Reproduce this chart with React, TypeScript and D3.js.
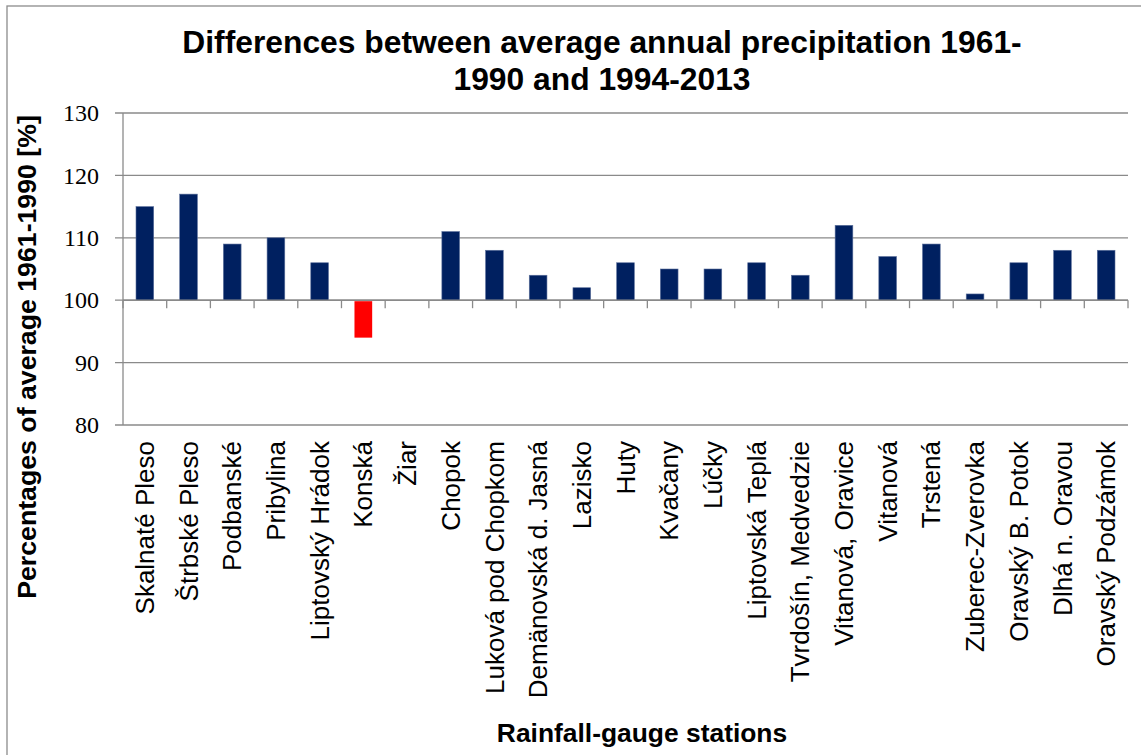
import React from "react";
import * as d3 from "d3";

const stations = [
  "Skalnaté Pleso", "Štrbské Pleso", "Podbanské", "Pribylina", "Liptovský Hrádok",
  "Konská", "Žiar", "Chopok", "Luková pod Chopkom", "Demänovská d. Jasná",
  "Lazisko", "Huty", "Kvačany", "Lúčky", "Liptovská Teplá",
  "Tvrdošín, Medvedzie", "Vitanová, Oravice", "Vitanová", "Trstená", "Zuberec-Zverovka",
  "Oravský B. Potok", "Dlhá n. Oravou", "Oravský Podzámok",
];
const percentages = [
  115, 117, 109, 110, 106,
  94, 100, 111, 108, 104,
  102, 106, 105, 105, 106,
  104, 112, 107, 109, 101,
  106, 108, 108,
];
const yTicks = [80, 90, 100, 110, 120, 130];
const titleLines = ["Differences between average annual precipitation 1961-", "1990 and 1994-2013"];
const yTitle = "Percentages of average 1961-1990 [%]";
const xTitle = "Rainfall-gauge stations";

const W = 1141;
const H = 755;
const plotLeft = 123;
const plotRight = 1128;
const plotTop = 113;
const plotBottom = 425;
const gridColor = "#8a8a8a";
const sans = "'Liberation Sans', Arial, sans-serif";
const serif = "'Liberation Serif', 'Times New Roman', serif";

export default function App() {
  const x = d3.scaleBand<string>().domain(stations).range([plotLeft, plotRight]).paddingInner(0).paddingOuter(0);
  const y = d3.scaleLinear().domain([80, 130]).range([plotBottom, plotTop]);
  const bw = x.bandwidth() * 0.405;
  const base = y(100);
  const boundaries = stations.map((s) => x(s) as number).concat([plotRight]);

  return (
    <svg width={W} height={H} style={{ position: "absolute", left: 0, top: 0, background: "#fff" }}>
      <rect x={0} y={0} width={W} height={H} fill="#fff" />
      <rect x={7} y={6} width={W + 10} height={H + 10} fill="none" stroke="#8c8c8c" strokeWidth={1.3} />
      {/* title */}
      {titleLines.map((t, i) => (
        <text key={i} x={602} y={53 + i * 37} textAnchor="middle" fontFamily={sans} fontWeight="bold" fontSize={31.8} fill="#000">
          {t}
        </text>
      ))}
      {/* gridlines */}
      {yTicks.map((t) => (
        <line key={t} x1={plotLeft - 8} x2={plotRight} y1={y(t)} y2={y(t)} stroke={gridColor} strokeWidth={1.3} />
      ))}
      {/* y axis */}
      <line x1={plotLeft} x2={plotLeft} y1={plotTop} y2={plotBottom} stroke={gridColor} strokeWidth={1.3} />
      {yTicks.map((t) => (
        <text key={"l" + t} x={99} y={y(t)} dy="0.34em" textAnchor="end" fontFamily={serif} fontSize={24} fill="#000">
          {t}
        </text>
      ))}
      {/* bars */}
      {stations.map((s, i) => {
        const v = percentages[i];
        const cx = (x(s) as number) + x.bandwidth() / 2;
        if (v === 100) return null;
        const y0 = v > 100 ? y(v) : base + 1;
        const h = Math.abs(y(v) - base) - (v > 100 ? 0 : 1);
        return (
          <rect key={s} x={cx - bw / 2} y={y0} width={bw} height={h} fill={v < 100 ? "#ff0000" : "#002060"}
            stroke={v < 100 ? "none" : "#5c709c"} strokeWidth={0.6} />
        );
      })}
      {/* x axis at 100 */}
      <line x1={plotLeft} x2={plotRight} y1={base} y2={base} stroke={gridColor} strokeWidth={1.5} />
      {boundaries.map((bx, i) => (
        <line key={"t" + i} x1={bx} x2={bx} y1={base} y2={base + 8} stroke={gridColor} strokeWidth={1.3} />
      ))}
      {/* category labels */}
      {stations.map((s) => {
        const cx = (x(s) as number) + x.bandwidth() / 2;
        return (
          <text key={"c" + s} transform={`translate(${cx},441) rotate(-90)`} dy="0.35em" textAnchor="end"
            fontFamily={sans} fontSize={26} fill="#000">
            {s}
          </text>
        );
      })}
      {/* axis titles */}
      <text transform="translate(36,357) rotate(-90)" textAnchor="middle" fontFamily={sans} fontWeight="bold" fontSize={26.7} fill="#000">
        {yTitle}
      </text>
      <text x={642} y={742} textAnchor="middle" fontFamily={sans} fontWeight="bold" fontSize={26.4} fill="#000">
        {xTitle}
      </text>
    </svg>
  );
}
